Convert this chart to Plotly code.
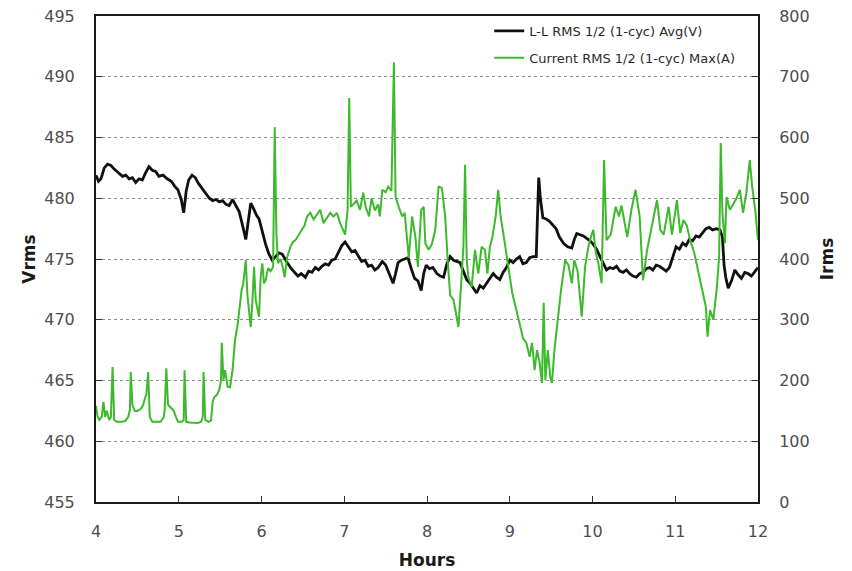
import plotly.graph_objects as go

# Line-to-line voltage, RMS half-cycle average (V)
volt_hours = [
    4.00, 4.03, 4.06, 4.10, 4.14, 4.18, 4.22, 4.27, 4.32, 4.36, 4.40, 4.44, 4.48, 4.52,
    4.56, 4.60, 4.64, 4.68, 4.72, 4.76, 4.81, 4.86, 4.91, 4.95, 4.99, 5.03, 5.06, 5.09,
    5.12, 5.16, 5.20, 5.24, 5.28, 5.33, 5.37, 5.41, 5.45, 5.49, 5.53, 5.57, 5.61, 5.65,
    5.69, 5.73, 5.77, 5.81, 5.85, 5.87, 5.90, 5.94, 5.97, 6.01, 6.05, 6.09, 6.13, 6.17,
    6.21, 6.25, 6.28, 6.32, 6.36, 6.40, 6.44, 6.48, 6.53, 6.57, 6.61, 6.65, 6.69, 6.73,
    6.77, 6.81, 6.85, 6.89, 6.93, 6.97, 7.01, 7.05, 7.09, 7.13, 7.17, 7.21, 7.25, 7.29,
    7.33, 7.37, 7.41, 7.46, 7.50, 7.54, 7.59, 7.62, 7.65, 7.69, 7.73, 7.77, 7.81, 7.85,
    7.89, 7.93, 7.96, 7.99, 8.03, 8.07, 8.12, 8.16, 8.20, 8.24, 8.28, 8.32, 8.36, 8.40,
    8.44, 8.48, 8.52, 8.56, 8.60, 8.64, 8.68, 8.72, 8.76, 8.80, 8.84, 8.88, 8.92, 8.96,
    9.00, 9.04, 9.08, 9.12, 9.16, 9.20, 9.24, 9.28, 9.32, 9.34, 9.35, 9.37, 9.40, 9.44,
    9.48, 9.52, 9.56, 9.60, 9.65, 9.70, 9.75, 9.78, 9.81, 9.85, 9.89, 9.93, 9.97, 10.01,
    10.05, 10.09, 10.13, 10.17, 10.21, 10.25, 10.29, 10.33, 10.37, 10.41, 10.45, 10.49,
    10.53, 10.57, 10.61, 10.65, 10.69, 10.73, 10.77, 10.81, 10.85, 10.89, 10.93, 10.97,
    11.01, 11.05, 11.09, 11.13, 11.17, 11.21, 11.25, 11.29, 11.33, 11.37, 11.41, 11.45,
    11.50, 11.54, 11.57, 11.59, 11.61, 11.64, 11.68, 11.72, 11.76, 11.80, 11.84, 11.88,
    11.92, 11.96, 12.00,
]
volt_values = [
    481.9, 481.4, 481.6, 482.5, 482.8, 482.7, 482.4, 482.1, 481.8, 481.9, 481.6, 481.7, 481.3, 481.6,
    481.5, 482.1, 482.6, 482.3, 482.2, 481.8, 481.9, 481.6, 481.4, 481.0, 480.7, 479.9, 478.8, 480.6,
    481.5, 481.9, 481.7, 481.2, 480.8, 480.4, 480.0, 479.8, 479.9, 479.7, 479.8, 479.5, 479.4, 479.9,
    479.4, 478.9, 477.8, 476.6, 478.6, 479.6, 479.2, 478.6, 478.3, 477.2, 476.2, 475.4, 474.9, 475.2,
    475.5, 475.4, 475.0, 474.6, 474.2, 473.9, 473.6, 473.8, 473.5, 474.0, 473.9, 474.3, 474.1, 474.4,
    474.6, 474.5, 474.9, 475.0, 475.6, 476.1, 476.4, 476.0, 475.6, 475.7, 475.2, 474.8, 474.9, 474.4,
    474.5, 474.1, 474.3, 474.8, 474.5, 473.8, 473.0, 473.8, 474.7, 474.9, 475.0, 475.1, 474.2, 473.4,
    473.2, 472.4, 473.8, 474.5, 474.2, 474.3, 473.8, 473.6, 473.5, 474.6, 475.2, 474.9, 474.8, 474.7,
    474.0, 473.3, 473.0, 472.6, 472.2, 472.8, 472.6, 473.0, 473.4, 473.8, 473.5, 473.3, 473.9, 474.3,
    474.9, 474.7, 475.0, 475.2, 474.6, 474.7, 475.1, 475.2, 475.2, 479.0, 481.7, 480.0, 478.4, 478.3,
    478.1, 477.8, 477.5, 476.8, 476.3, 476.0, 475.9, 476.6, 477.1, 477.0, 476.9, 476.7, 476.5, 476.2,
    475.8, 475.2, 474.6, 474.1, 474.3, 474.2, 474.4, 474.0, 473.9, 474.1, 473.8, 473.6,
    473.5, 473.8, 473.9, 474.2, 474.3, 474.1, 474.5, 474.4, 474.2, 474.0, 474.3, 475.2,
    476.0, 475.8, 476.3, 476.1, 476.6, 476.5, 476.9, 476.8, 477.2, 477.5, 477.6, 477.4,
    477.5, 477.4, 476.8, 474.5, 473.5, 472.6, 473.2, 474.1, 473.7, 473.4, 473.9, 473.8,
    473.6, 474.0, 474.3,
]

# Phase current, RMS half-cycle maximum (A)
amp_hours = [
    4.00, 4.02, 4.04, 4.07, 4.09, 4.11, 4.13, 4.16, 4.18, 4.20, 4.22, 4.25, 4.30, 4.35,
    4.39, 4.41, 4.42, 4.44, 4.47, 4.50, 4.54, 4.57, 4.59, 4.61, 4.63, 4.65, 4.68, 4.73,
    4.78, 4.82, 4.83, 4.85, 4.87, 4.90, 4.94, 4.96, 4.99, 5.04, 5.06, 5.07, 5.09, 5.13,
    5.18, 5.23, 5.27, 5.29, 5.30, 5.32, 5.36, 5.39, 5.41, 5.43, 5.46, 5.49, 5.51, 5.52,
    5.54, 5.56, 5.59, 5.62, 5.65, 5.68, 5.71, 5.73, 5.76, 5.78, 5.81, 5.83, 5.85, 5.87,
    5.89, 5.91, 5.93, 5.96, 5.97, 5.99, 6.01, 6.03, 6.05, 6.08, 6.11, 6.14, 6.16, 6.18,
    6.20, 6.23, 6.26, 6.28, 6.31, 6.35, 6.38, 6.41, 6.44, 6.48, 6.52, 6.55, 6.59, 6.63,
    6.67, 6.71, 6.75, 6.79, 6.83, 6.87, 6.91, 6.95, 6.99, 7.01, 7.04, 7.06, 7.08, 7.11,
    7.15, 7.19, 7.23, 7.26, 7.30, 7.33, 7.37, 7.41, 7.43, 7.46, 7.50, 7.53, 7.57, 7.60,
    7.62, 7.66, 7.70, 7.73, 7.76, 7.78, 7.82, 7.86, 7.89, 7.93, 7.96, 7.98, 8.02, 8.06,
    8.10, 8.14, 8.18, 8.22, 8.25, 8.28, 8.32, 8.35, 8.38, 8.41, 8.44, 8.46, 8.48, 8.50,
    8.54, 8.58, 8.62, 8.66, 8.70, 8.73, 8.76, 8.79, 8.83, 8.86, 8.89, 8.94, 8.98, 9.03,
    9.08, 9.12, 9.16, 9.20, 9.24, 9.27, 9.30, 9.33, 9.36, 9.39, 9.41, 9.43, 9.46, 9.49,
    9.51, 9.54, 9.58, 9.62, 9.67, 9.71, 9.75, 9.78, 9.82, 9.87, 9.91, 9.95, 9.98, 10.01,
    10.04, 10.07, 10.11, 10.14, 10.17, 10.22, 10.28, 10.32, 10.35, 10.42, 10.47, 10.52,
    10.57, 10.61, 10.66, 10.70, 10.74, 10.78, 10.82, 10.86, 10.92, 10.96, 11.02, 11.06,
    11.10, 11.14, 11.18, 11.23, 11.28, 11.32, 11.37, 11.39, 11.42, 11.46, 11.50, 11.53,
    11.55, 11.57, 11.60, 11.62, 11.66, 11.70, 11.74, 11.78, 11.82, 11.86, 11.90, 11.93,
    11.97, 12.00,
]
amp_values = [
    158, 140, 135, 140, 165, 140, 150, 135, 140, 222, 135, 132, 132, 133,
    140, 152, 214, 160, 150, 150, 153, 160, 170, 178, 214, 140, 132, 132,
    132, 140, 152, 220, 160, 156, 150, 142, 132, 132, 135, 217, 132, 131,
    130, 130, 132, 140, 214, 135, 132, 134, 165, 173, 176, 185, 200, 262,
    201, 217, 190, 189, 217, 267, 290, 311, 349, 360, 398, 340, 316, 288,
    330, 387, 333, 311, 305, 370, 393, 360, 365, 385, 380, 387, 617, 443,
    393, 400, 385, 370, 403, 420, 428, 431, 438, 448, 455, 470, 476, 465,
    472, 481, 459, 468, 476, 470, 476, 459, 445, 440, 480, 665, 486, 490,
    496, 481, 509, 485, 470, 500, 480, 490, 470, 514, 510, 519, 512, 724,
    502, 485, 470, 476, 436, 402, 470, 436, 387, 481, 486, 426, 415, 425,
    448, 519, 517, 470, 398, 340, 333, 310, 288, 354, 420, 555, 398, 370,
    354, 415, 376, 420, 415, 376, 420, 436, 470, 514, 470, 426, 387, 344,
    316, 295, 270, 262, 239, 262, 217, 250, 230, 196, 328, 201, 250, 205,
    196, 250, 300, 349, 398, 390, 360, 398, 380, 305, 387, 420, 436, 448,
    410, 393, 360, 563, 431, 440, 486, 470, 488, 436, 481, 514,
    470, 365, 415, 440, 470, 497, 448, 440, 486, 440, 497, 443,
    464, 455, 431, 410, 376, 349, 321, 272, 316, 300, 349, 403,
    591, 476, 426, 502, 481, 490, 500, 514, 476, 510, 563, 519,
    476, 431,
]

hour_ticks = [4, 5, 6, 7, 8, 9, 10, 11, 12]

FONT = "DejaVu Sans"
TICK_COLOR = "#4d4d4d"
TITLE_FONT = dict(family=FONT, size=17, color="#1a1a1a")

fig = go.Figure()

fig.add_trace(go.Scatter(
    x=volt_hours, y=volt_values, mode="lines",
    name="L-L RMS 1/2 (1-cyc) Avg(V)", legendgroup="volts",
    line=dict(color="#111111", width=2.8),
    yaxis="y",
))
fig.add_trace(go.Scatter(
    x=amp_hours, y=amp_values, mode="lines",
    name="Current RMS 1/2 (1-cyc) Max(A)", legendgroup="amps",
    line=dict(color="#3cba2c", width=2),
    yaxis="y2",
))

axis_common = dict(
    showline=True, linecolor="#1a1a1a", linewidth=2,
    ticks="inside", ticklen=6, tickcolor="#333333", tickwidth=1,
    tickfont=dict(family=FONT, size=16, color=TICK_COLOR),
    zeroline=False, automargin=False,
)

fig.update_layout(
    width=852, height=571,
    margin=dict(l=96, r=94, t=16, b=69),
    paper_bgcolor="white", plot_bgcolor="white",
    font=dict(family=FONT),
    xaxis=dict(
        range=[4, 12], tickvals=hour_ticks, showgrid=False, mirror=True,
        ticklabelstandoff=14,
        title=dict(text="<b>Hours</b>", font=TITLE_FONT, standoff=14),
        **axis_common,
    ),
    yaxis=dict(
        range=[455, 495], dtick=5, showgrid=True,
        gridcolor="#8c8c8c", gridwidth=1, griddash="3px,3px",
        ticklabelstandoff=16,
        title=dict(text="<b>Vrms</b>", font=TITLE_FONT, standoff=4),
        **axis_common,
    ),
    yaxis2=dict(
        range=[0, 800], dtick=100, overlaying="y", side="right", showgrid=False,
        ticklabelstandoff=16,
        title=dict(text="<b>Irms</b>", font=TITLE_FONT, standoff=12),
        **axis_common,
    ),
    legend=dict(
        x=0.594, y=1.0, xanchor="left", yanchor="top",
        bgcolor="rgba(255,255,255,0)", borderwidth=0,
        font=dict(family=FONT, size=13, color="#2a2a2a"),
        tracegroupgap=7, itemwidth=30,
    ),
    showlegend=True,
)

fig.write_html("out.html")
